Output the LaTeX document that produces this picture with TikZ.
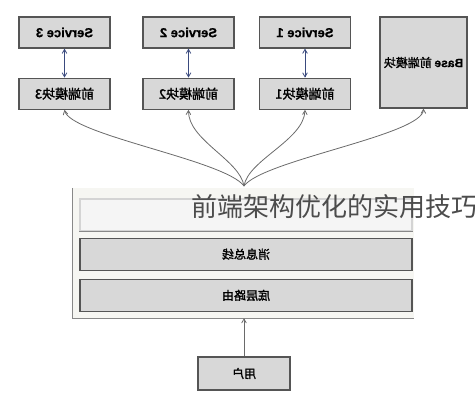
\documentclass[tikz,border=0pt]{standalone}
\usepackage{fontspec}
\setmainfont{Noto Sans CJK SC}
\newfontfamily\lat{Liberation Sans}[FakeBold=0.6]
\newfontfamily\cjk{Noto Sans CJK SC}[FakeBold=1.6]
\usetikzlibrary{shapes,arrows,positioning,fit}
\definecolor{boxfill}{HTML}{D8D8D8}
\definecolor{boxline}{HTML}{555555}
\definecolor{linkblue}{HTML}{3A4A7E}
\definecolor{feedgray}{HTML}{6A6A6A}
\definecolor{panel}{HTML}{F6F6F2}
\tikzstyle{block} = [draw=boxline,fill=boxfill,line width=1.2pt,inner sep=0,minimum width=91pt,minimum height=31pt,font=\fontsize{13}{15}\selectfont]
\tikzstyle{layer} = [block,minimum width=332pt,minimum height=32pt,font=\fontsize{12}{14}\selectfont]
\tikzstyle{link} = [<->,>=angle 60,thick,draw=linkblue]
\tikzstyle{feed} = [->,>=angle 60,thick,draw=feedgray]
\newcommand{\mir}[1]{\reflectbox{#1}}

\begin{document}
\begin{tikzpicture}[x=1pt,y=-1pt,node distance=29pt]
  \useasboundingbox (0,0) rectangle (475,400);
  % services and their front-end modules
  \node[block] (s3) at (64.5,32.5) {\mir{\lat\bfseries Service 3}};
  \node[block,below=of s3] (m3) {\mir{\cjk 前端模块3}};
  \node[block] (s2) at (188.5,32.5) {\mir{\lat\bfseries Service 2}};
  \node[block,below=of s2] (m2) {\mir{\cjk 前端模块2}};
  \node[block] (s1) at (305,32.5) {\mir{\lat\bfseries Service 1}};
  \node[block,below=of s1] (m1) {\mir{\cjk 前端模块1}};
  \node[block,minimum width=87pt,minimum height=91pt,font=\fontsize{12}{14}\selectfont] (base) at (423.5,62.5)
    {\mir{{\lat\bfseries Base} {\cjk 前端模块}}};
  \draw[link] (s3) -- (m3);
  \draw[link] (s2) -- (m2);
  \draw[link] (s1) -- (m1);
  % layered panel
  \node[fill=panel,minimum width=341pt,minimum height=130pt,inner sep=0] (panel) at (243.5,253) {};
  \draw[boxline!70,line width=1.2pt] (panel.north west) -- (panel.south west) -- (panel.south east);
  \node[layer,fill=black!4,draw=boxline!25] (ui) at (246,215) {};
  \draw[boxline!70,line width=1.2pt] (ui.south west) -- (ui.south east);
  \node[layer,below=6pt of ui] (bus) {\mir{\cjk 消息总线}};
  \node[layer,below=8pt of bus] (route) {\mir{\cjk 底层路由}};
  % fan out to the modules
  \coordinate (hub) at (244,186);
  \draw[feed] (hub) .. controls (225,160) and (70,135) .. (m3.south);
  \draw[feed] (hub) .. controls (240,160) and (188,140) .. (m2.south);
  \draw[feed] (hub) .. controls (248,160) and (304,140) .. (m1.south);
  \draw[feed] (hub) .. controls (263,160) and (423,135) .. (base.south);
  % user
  \node[block,minimum width=92pt,minimum height=33pt,font=\fontsize{12}{14}\selectfont] (user) at (244,373.5) {\mir{\cjk 用户}};
  \draw[feed] (user.north) -- (user.north |- panel.south);
  \node[anchor=west,inner sep=0,font=\fontsize{26}{28}\selectfont,text=black!70] (mark) at (191,207) {前端架构优化的实用技巧};
\end{tikzpicture}
\end{document}
